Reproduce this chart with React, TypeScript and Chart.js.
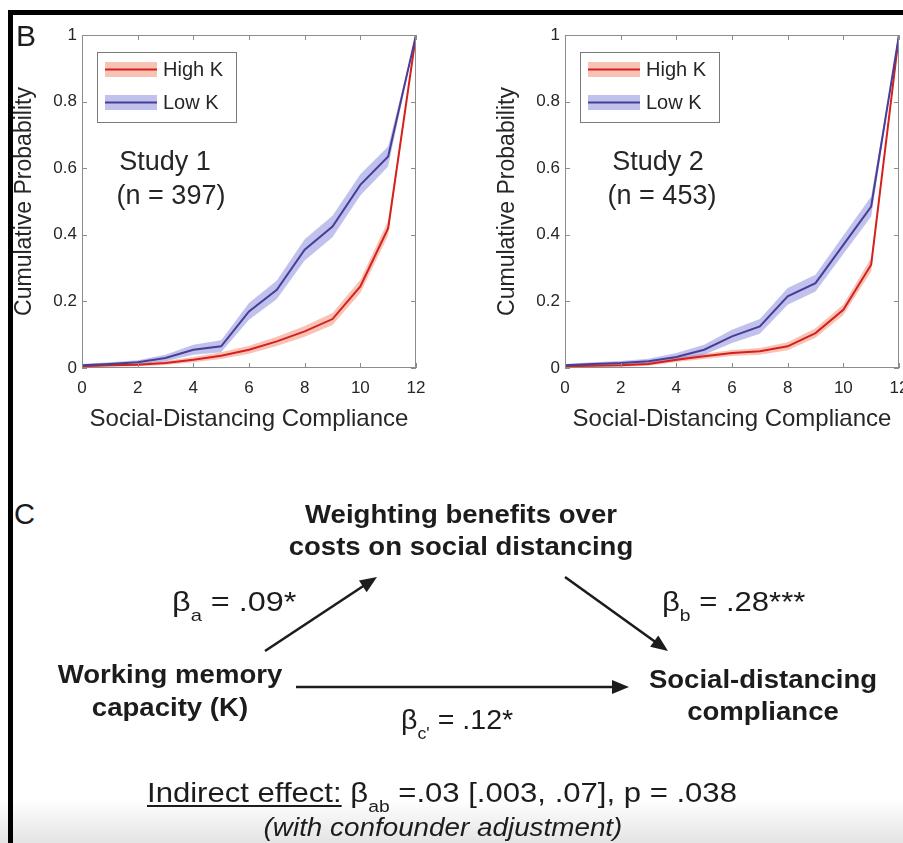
import React, { useEffect, useRef } from "react";
import { Chart, registerables } from "chart.js";

Chart.register(...registerables);

// Social-distancing compliance score (x) and tick positions
const compliance = [0, 1, 2, 3, 4, 5, 6, 7, 8, 9, 10, 11, 12];
const xTickValues = [0, 2, 4, 6, 8, 10, 12];
const yTickValues = [0, 0.2, 0.4, 0.6, 0.8, 1];
const seriesNames = ["High K", "Low K"];

// Study 1 (n = 397): cumulative probability and shaded error half-widths
const study1HighK = [0.005, 0.008, 0.01, 0.015, 0.025, 0.037, 0.055, 0.08, 0.11, 0.147, 0.245, 0.42, 1];
const study1HighKErr = [0.003, 0.004, 0.005, 0.006, 0.008, 0.01, 0.012, 0.014, 0.016, 0.018, 0.02, 0.022, 0];
const study1LowK = [0.008, 0.012, 0.017, 0.03, 0.055, 0.065, 0.17, 0.235, 0.355, 0.425, 0.55, 0.635, 1];
const study1LowKErr = [0.004, 0.005, 0.006, 0.01, 0.015, 0.018, 0.025, 0.028, 0.032, 0.032, 0.032, 0.03, 0];

// Study 2 (n = 453)
const study2HighK = [0.005, 0.007, 0.008, 0.012, 0.025, 0.035, 0.045, 0.05, 0.065, 0.105, 0.175, 0.31, 1];
const study2HighKErr = [0.003, 0.003, 0.004, 0.005, 0.007, 0.008, 0.009, 0.01, 0.012, 0.014, 0.016, 0.02, 0];
const study2LowK = [0.008, 0.012, 0.015, 0.02, 0.033, 0.055, 0.095, 0.125, 0.215, 0.255, 0.37, 0.485, 1];
const study2LowKErr = [0.004, 0.005, 0.006, 0.008, 0.012, 0.015, 0.02, 0.022, 0.025, 0.025, 0.028, 0.03, 0];

const FONT = "'Liberation Sans', Arial, Helvetica, sans-serif";
const TEXT = "#262626";
const HIGH_LINE = "rgb(214, 32, 30)";
const HIGH_BAND = "rgba(240, 120, 90, 0.45)";
const LOW_LINE = "rgb(72, 62, 150)";
const LOW_BAND = "rgba(100, 100, 210, 0.4)";

type PanelProps = {
  left: number;
  width: number;
  rightPad: number;
  high: number[];
  highErr: number[];
  low: number[];
  lowErr: number[];
  study: string;
  count: string;
  studyDx: number;
  countDx: number;
};

function Panel(p: PanelProps) {
  const ref = useRef<HTMLCanvasElement>(null);

  useEffect(() => {
    const canvas = ref.current!;
    const pts = (vals: number[], errs: number[], sign: number) =>
      compliance.map((x, i) => ({ x, y: vals[i] + sign * errs[i] }));

    // Axes box with inward ticks on all four sides, legend and study caption
    const decor = {
      id: "panelDecor",
      afterDatasetsDraw(chart: any) {
        const { ctx, chartArea: a, scales } = chart;
        ctx.save();
        ctx.strokeStyle = "#8c8c8c";
        ctx.lineWidth = 1;
        ctx.strokeRect(a.left + 0.5, a.top + 0.5, a.right - a.left - 1, a.bottom - a.top - 1);
        ctx.beginPath();
        for (const v of xTickValues) {
          const px = Math.round(scales.x.getPixelForValue(v)) + 0.5;
          ctx.moveTo(px, a.bottom);
          ctx.lineTo(px, a.bottom - 5);
          ctx.moveTo(px, a.top);
          ctx.lineTo(px, a.top + 5);
        }
        for (const v of yTickValues) {
          const py = Math.round(scales.y.getPixelForValue(v)) + 0.5;
          ctx.moveTo(a.left, py);
          ctx.lineTo(a.left + 5, py);
          ctx.moveTo(a.right, py);
          ctx.lineTo(a.right - 5, py);
        }
        ctx.stroke();

        // legend
        const lx = a.left + 15;
        const ly = a.top + 17;
        ctx.fillStyle = "#ffffff";
        ctx.fillRect(lx, ly, 139, 70);
        ctx.strokeStyle = "#7a7a7a";
        ctx.strokeRect(lx + 0.5, ly + 0.5, 139, 70);
        const entries = [
          { name: seriesNames[0], band: HIGH_BAND, line: HIGH_LINE, cy: a.top + 34.5 },
          { name: seriesNames[1], band: LOW_BAND, line: LOW_LINE, cy: a.top + 67.5 },
        ];
        ctx.font = `20px ${FONT}`;
        ctx.textBaseline = "middle";
        ctx.textAlign = "left";
        for (const e of entries) {
          ctx.fillStyle = e.band;
          ctx.fillRect(a.left + 23, e.cy - 7.5, 52, 15);
          ctx.strokeStyle = e.line;
          ctx.lineWidth = 2;
          ctx.beginPath();
          ctx.moveTo(a.left + 23, e.cy);
          ctx.lineTo(a.left + 75, e.cy);
          ctx.stroke();
          ctx.fillStyle = TEXT;
          ctx.fillText(e.name, a.left + 81, e.cy + 1);
        }

        // study caption
        ctx.font = `27px ${FONT}`;
        ctx.textAlign = "center";
        ctx.fillStyle = TEXT;
        ctx.fillText(p.study, a.left + p.studyDx, a.top + 128);
        ctx.fillText(p.count, a.left + p.countDx, a.top + 162);
        ctx.restore();
      },
    };

    const band = (vals: number[], errs: number[], color: string, order: number) => [
      { data: pts(vals, errs, 1), fill: "+1", backgroundColor: color, borderWidth: 0, pointRadius: 0, order },
      { data: pts(vals, errs, -1), fill: false, borderWidth: 0, pointRadius: 0, order },
    ];

    const chart = new Chart(canvas, {
      type: "line",
      data: {
        datasets: [
          ...band(p.high, p.highErr, HIGH_BAND, 3),
          ...band(p.low, p.lowErr, LOW_BAND, 2),
          { label: seriesNames[0], data: pts(p.high, p.highErr, 0), borderColor: HIGH_LINE, borderWidth: 2, pointRadius: 0, fill: false, order: 1 },
          { label: seriesNames[1], data: pts(p.low, p.lowErr, 0), borderColor: LOW_LINE, borderWidth: 2, pointRadius: 0, fill: false, order: 0 },
        ] as any,
      },
      options: {
        responsive: false,
        animation: false,
        devicePixelRatio: 1,
        layout: { padding: { left: 0, top: 35, right: p.rightPad, bottom: 0 } },
        plugins: { legend: { display: false }, tooltip: { enabled: false } },
        scales: {
          x: {
            type: "linear",
            min: 0,
            max: 12,
            afterBuildTicks: (s: any) => {
              s.ticks = xTickValues.map((v) => ({ value: v }));
            },
            afterFit: (s: any) => {
              s.height = 72;
              s.paddingLeft = 0;
              s.paddingRight = 0;
            },
            grid: { display: false, drawTicks: false },
            border: { display: false },
            ticks: {
              padding: 10,
              color: TEXT,
              autoSkip: false,
              maxRotation: 0,
              font: { family: FONT, size: 17 },
              callback: (v: any) => String(v),
            },
            title: {
              display: true,
              text: "Social-Distancing Compliance",
              color: TEXT,
              font: { family: FONT, size: 24 },
              padding: { top: 0, bottom: 6 },
            },
          },
          y: {
            type: "linear",
            min: 0,
            max: 1,
            afterBuildTicks: (s: any) => {
              s.ticks = yTickValues.map((v) => ({ value: v }));
            },
            afterFit: (s: any) => {
              s.width = 82;
              s.paddingTop = 0;
              s.paddingBottom = 0;
            },
            grid: { display: false, drawTicks: false },
            border: { display: false },
            ticks: {
              padding: 5,
              color: TEXT,
              font: { family: FONT, size: 17 },
              callback: (v: any) => String(v),
            },
            title: {
              display: true,
              text: "Cumulative Probability",
              color: TEXT,
              font: { family: FONT, size: 23 },
              padding: { top: 11, bottom: 0 },
            },
          },
        },
      } as any,
      plugins: [decor],
    });
    return () => chart.destroy();
  }, []);

  return (
    <canvas
      ref={ref}
      width={p.width}
      height={440}
      style={{ position: "absolute", left: p.left, top: 0, width: p.width, height: 440 }}
    />
  );
}

type TextProps = {
  cx?: number;
  x?: number;
  cy: number;
  size: number;
  bold?: boolean;
  italic?: boolean;
  stretch?: number;
  children: React.ReactNode;
};

function Label({ cx, x, cy, size, bold, italic, stretch = 1.06, children }: TextProps) {
  const lh = Math.round(size * 1.15);
  const centered = cx !== undefined;
  return (
    <div
      style={{
        position: "absolute",
        left: centered ? (cx as number) - 300 : x,
        width: centered ? 600 : undefined,
        top: cy - lh / 2,
        lineHeight: `${lh}px`,
        fontSize: size,
        fontFamily: FONT,
        fontWeight: bold ? 700 : 400,
        fontStyle: italic ? "italic" : "normal",
        color: "#1c1c1c",
        whiteSpace: "nowrap",
        textAlign: centered ? "center" : "left",
        transform: `scaleX(${stretch})`,
        transformOrigin: centered ? "50% 50%" : "0 50%",
      }}
    >
      {children}
    </div>
  );
}

const Sub = ({ children }: { children: React.ReactNode }) => (
  <span style={{ fontSize: "0.62em", verticalAlign: "-0.6em", lineHeight: 1 }}>{children}</span>
);

function Arrow({ x1, y1, x2, y2 }: { x1: number; y1: number; x2: number; y2: number }) {
  const len = Math.hypot(x2 - x1, y2 - y1);
  const ux = (x2 - x1) / len;
  const uy = (y2 - y1) / len;
  const hl = 17;
  const hw = 7;
  const bx = x2 - ux * hl;
  const by = y2 - uy * hl;
  const head = `${x2},${y2} ${bx - uy * hw},${by + ux * hw} ${bx + uy * hw},${by - ux * hw}`;
  return (
    <g>
      <line x1={x1} y1={y1} x2={bx + ux * 2} y2={by + uy * 2} stroke="#1c1c1c" strokeWidth={2.6} />
      <polygon points={head} fill="#1c1c1c" />
    </g>
  );
}

export default function App() {
  return (
    <div
      style={{
        position: "absolute",
        left: 0,
        top: 0,
        width: 903,
        height: 843,
        overflow: "hidden",
        background: "#ffffff",
      }}
    >
      {/* soft grey fade along the bottom edge */}
      <div
        style={{
          position: "absolute",
          left: 0,
          top: 800,
          width: 903,
          height: 43,
          background: "linear-gradient(to bottom, rgba(230,230,230,0), rgba(228,228,228,1))",
        }}
      />

      <Panel
        left={0}
        width={450}
        rightPad={34}
        high={study1HighK}
        highErr={study1HighKErr}
        low={study1LowK}
        lowErr={study1LowKErr}
        study="Study 1"
        count="(n = 397)"
        studyDx={83}
        countDx={89}
      />
      <Panel
        left={483}
        width={420}
        rightPad={4}
        high={study2HighK}
        highErr={study2HighKErr}
        low={study2LowK}
        lowErr={study2LowKErr}
        study="Study 2"
        count="(n = 453)"
        studyDx={93}
        countDx={97}
      />

      {/* panel letters */}
      <div style={{ position: "absolute", left: 16, top: 19, fontFamily: FONT, fontSize: 30, lineHeight: "34px", color: "#1c1c1c" }}>B</div>
      <div style={{ position: "absolute", left: 14, top: 497, fontFamily: FONT, fontSize: 29, lineHeight: "34px", color: "#1c1c1c" }}>C</div>

      {/* mediation diagram */}
      <svg width={903} height={843} style={{ position: "absolute", left: 0, top: 0 }}>
        <Arrow x1={265} y1={651} x2={377} y2={577} />
        <Arrow x1={565} y1={577} x2={668} y2={651} />
        <Arrow x1={296} y1={687} x2={629} y2={687} />
      </svg>

      <Label cx={461} cy={514} size={26} bold>Weighting benefits over</Label>
      <Label cx={461} cy={546} size={26} bold>costs on social distancing</Label>
      <Label cx={170} cy={674} size={26} bold>Working memory</Label>
      <Label cx={170} cy={707} size={26} bold>capacity (K)</Label>
      <Label cx={763} cy={679} size={26} bold>Social-distancing</Label>
      <Label cx={763} cy={711} size={26} bold>compliance</Label>

      <Label x={172} cy={602} size={27} stretch={1.2}>
        β<Sub>a</Sub> = .09*
      </Label>
      <Label x={662} cy={602} size={27} stretch={1.15}>
        β<Sub>b</Sub> = .28***
      </Label>
      <Label x={401} cy={720} size={27} stretch={1.06}>
        β<Sub>c'</Sub> = .12*
      </Label>

      <Label x={147} cy={793} size={28} stretch={1.11}>
        <span style={{ textDecoration: "underline", textUnderlineOffset: 3 }}>Indirect effect:</span> β<Sub>ab</Sub> =.03 [.003, .07], p = .038
      </Label>
      <Label cx={443} cy={827} size={26} italic stretch={1.07}>
        (with confounder adjustment)
      </Label>

      {/* frame */}
      <div style={{ position: "absolute", left: 8, top: 10, width: 895, height: 5, background: "#000" }} />
      <div style={{ position: "absolute", left: 8, top: 10, width: 5, height: 833, background: "#000" }} />
    </div>
  );
}
